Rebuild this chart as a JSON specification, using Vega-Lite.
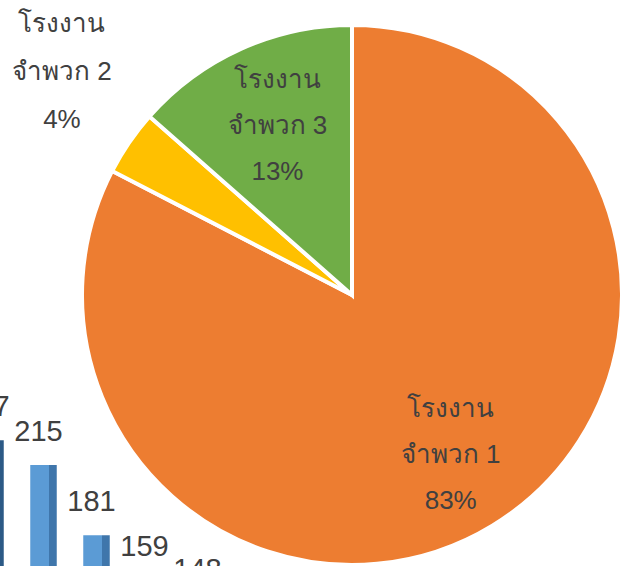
{
  "$schema": "https://vega.github.io/schema/vega-lite/v6.json",
  "autosize": {"type": "none"},
  "width": 540,
  "height": 540,
  "padding": {"left": 82, "top": 25, "right": 1, "bottom": 1},
  "background": "#ffffff",
  "view": {"stroke": null},
  "datasets": {
    "pie": [
      {"cat": "1", "value": 82.6, "label": "โรงงาน\nจำพวก 1\n83%"},
      {"cat": "2", "value": 3.9, "label": "โรงงาน\nจำพวก 2\n4%"},
      {"cat": "3", "value": 13.5, "label": "โรงงาน\nจำพวก 3\n13%"}
    ],
    "bars": [
      {"k": "a", "v": 227},
      {"k": "b", "v": 215},
      {"k": "c", "v": 181},
      {"k": "d", "v": 159},
      {"k": "e", "v": 148}
    ]
  },
  "layer": [
    {
      "data": {"name": "bars"},
      "mark": {"type": "bar", "clip": false},
      "encoding": {
        "x": {"field": "k", "type": "nominal", "axis": null,
              "scale": {"range": [-118, 147], "paddingInner": 0.5, "paddingOuter": 0.25}},
        "y": {"field": "v", "type": "quantitative", "axis": null,
              "scale": {"domain": [166.5, 428.6], "zero": false, "nice": false}},
        "fill": {
          "condition": {"test": "datum.k == 'a'", "value": {"gradient": "linear", "x1": 0, "x2": 1, "y1": 0, "y2": 0,
            "stops": [{"offset": 0, "color": "#3C6E9E"}, {"offset": 0.72, "color": "#3C6E9E"}, {"offset": 0.72, "color": "#2C5A86"}, {"offset": 1, "color": "#2C5A86"}]}},
          "value": {"gradient": "linear", "x1": 0, "x2": 1, "y1": 0, "y2": 0,
            "stops": [{"offset": 0, "color": "#5B9BD5"}, {"offset": 0.72, "color": "#5B9BD5"}, {"offset": 0.72, "color": "#3F76AB"}, {"offset": 1, "color": "#3F76AB"}]}
        }
      }
    },
    {
      "data": {"name": "bars"},
      "mark": {"type": "text", "clip": false, "dx": -5, "dy": -33, "fontSize": 29, "font": "Liberation Sans", "color": "#404040", "baseline": "middle", "align": "center"},
      "encoding": {
        "x": {"field": "k", "type": "nominal"},
        "y": {"field": "v", "type": "quantitative"},
        "text": {"field": "v", "type": "quantitative"}
      }
    },
    {
      "data": {"name": "pie"},
      "mark": {"type": "arc", "outerRadius": 270, "stroke": "#ffffff", "strokeWidth": 4},
      "encoding": {
        "theta": {"field": "value", "type": "quantitative", "stack": true},
        "order": {"field": "cat", "type": "ordinal"},
        "color": {"field": "cat", "type": "nominal", "legend": null,
                  "scale": {"domain": ["1", "2", "3"], "range": ["#ED7D31", "#FFC000", "#70AD47"]}}
      }
    },
    {
      "data": {"name": "pie"},
      "mark": {"type": "text", "radius": 186, "dx": 2, "dy": -45, "fontSize": 26, "lineHeight": 46, "color": "#404040", "baseline": "middle", "align": "center", "lineBreak": "\n"},
      "encoding": {
        "theta": {"field": "value", "type": "quantitative", "stack": true},
        "order": {"field": "cat", "type": "ordinal"},
        "text": {"condition": {"test": "datum.cat == '2'", "value": ""}, "field": "label"}
      }
    },
    {
      "data": {"name": "pie"},
      "mark": {"type": "text", "radius": 366, "dx": 12, "dy": -64, "fontSize": 26, "lineHeight": 48, "color": "#404040", "baseline": "middle", "align": "center", "lineBreak": "\n"},
      "encoding": {
        "theta": {"field": "value", "type": "quantitative", "stack": true},
        "order": {"field": "cat", "type": "ordinal"},
        "text": {"condition": {"test": "datum.cat != '2'", "value": ""}, "field": "label"}
      }
    }
  ]
}
